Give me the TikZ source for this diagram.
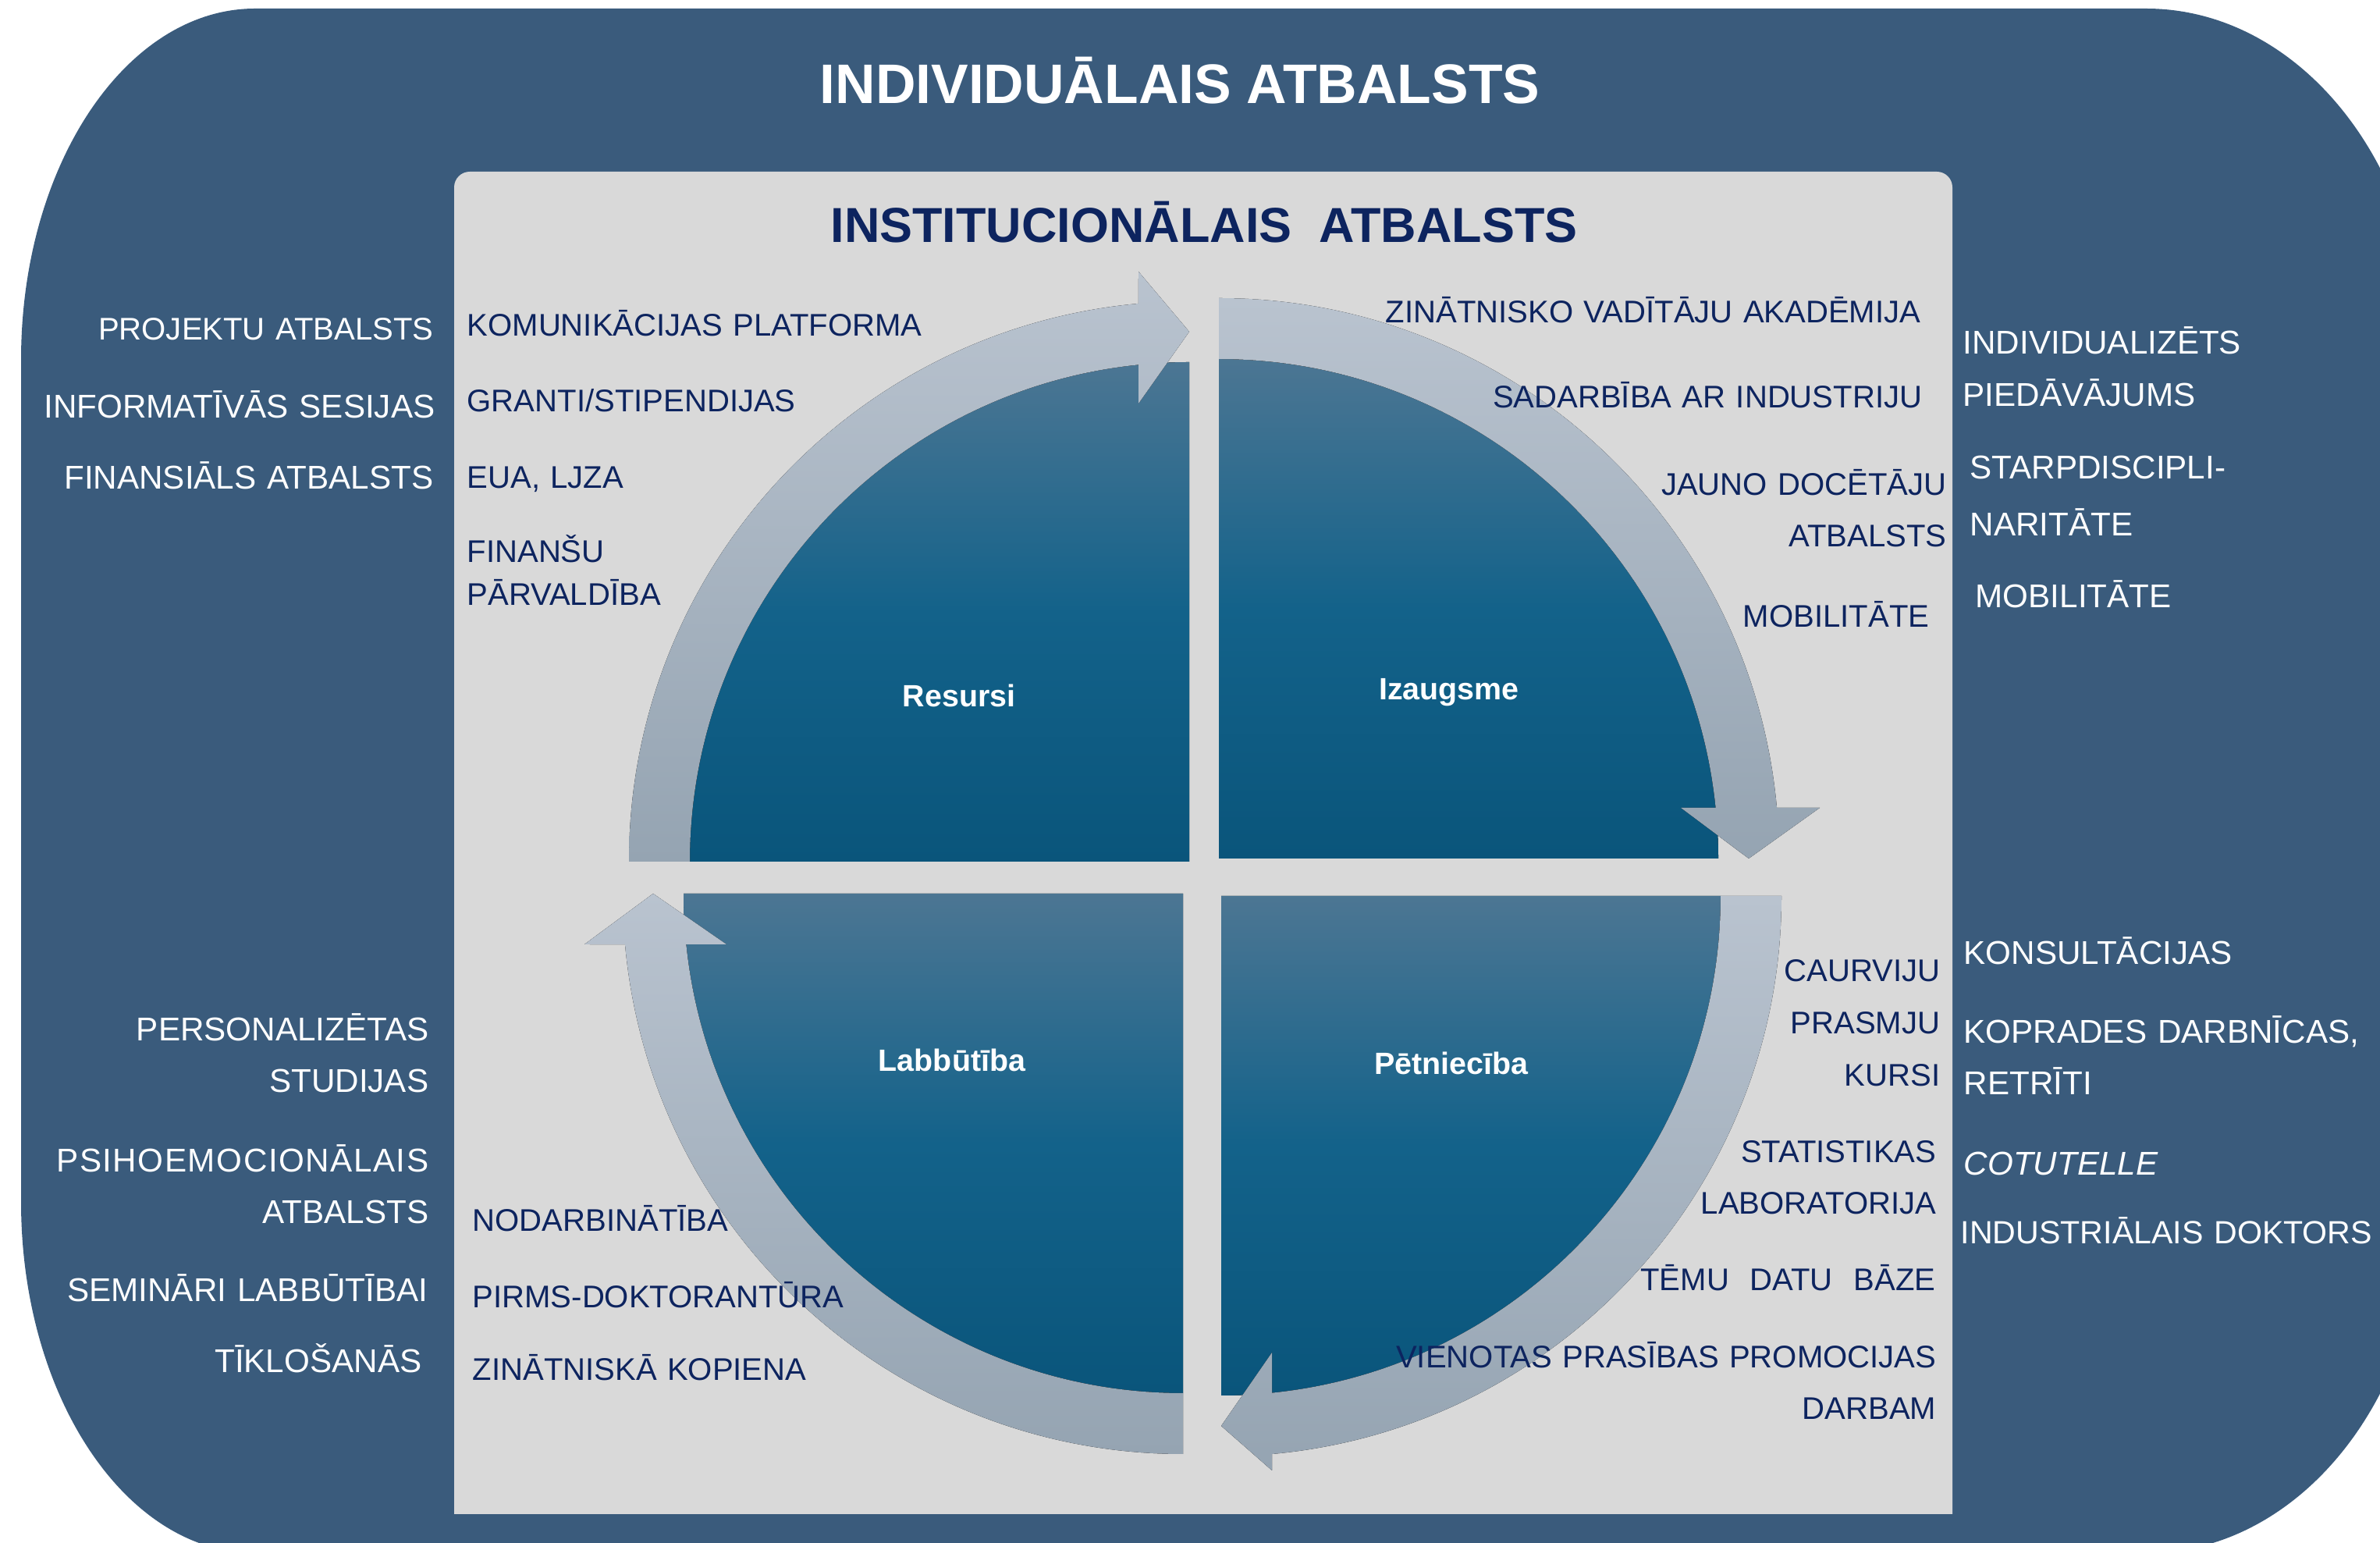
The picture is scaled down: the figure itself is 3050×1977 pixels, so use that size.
\documentclass[tikz,border=0pt]{standalone}
\usepackage{fontspec}
\setmainfont{Liberation Sans}
\usetikzlibrary{calc}

\newlength{\du}
\setlength{\du}{0.01cm}

\tikzset{
  itemfont/.style={font=\fontsize{11.4}{18.5}\selectfont},
  whiteitem/.style={font=\fontsize{12}{18.5}\selectfont, text=white, inner sep=0pt, text width=8cm},
  navyitem/.style={itemfont, text=navytext, inner sep=0pt, text width=8cm},
  rightcol/.style={anchor=base east, align=right},
  leftcol/.style={anchor=base west, align=left},
  pielabel/.style={font=\fontsize{11.2}{13}\selectfont\bfseries, text=white, inner sep=0pt},
  pieshape/.style={top color=pietop, bottom color=piebot, middle color=piemid},
  bandshape/.style={top color=bandtop, bottom color=bandbot},
}

\begin{document}
\begin{tikzpicture}[x=1\du, y=-1\du]
\definecolor{outerblue}{rgb}{0.227451, 0.356863, 0.486275}
\definecolor{panelgray}{rgb}{0.850980, 0.850980, 0.850980}
\definecolor{navytext}{rgb}{0.050980, 0.141176, 0.372549}
\definecolor{pietop}{rgb}{0.298039, 0.462745, 0.576471}
\definecolor{piemid}{rgb}{0.074510, 0.384314, 0.541176}
\definecolor{piebot}{rgb}{0.039216, 0.333333, 0.482353}
\definecolor{bandtop}{rgb}{0.725490, 0.764706, 0.811765}
\definecolor{bandbot}{rgb}{0.584314, 0.643137, 0.698039}
\useasboundingbox (0,0) rectangle (3050,1977);
\clip (0,0) rectangle (3050,1977);

% outer frame
\fill[outerblue] (327,11) -- (2750,11)
  arc[start angle=270, end angle=360, x radius=358, y radius=450]
  -- (3108,1540)
  arc[start angle=0, end angle=90, x radius=358, y radius=450]
  -- (327,1990)
  arc[start angle=90, end angle=180, x radius=300, y radius=450]
  -- (27,461)
  arc[start angle=180, end angle=270, x radius=300, y radius=450]
  -- cycle;

% inner panel
\fill[panelgray] (582,1940) [rounded corners=2mm] -- (582,220) -- (2502,220) [sharp corners] -- (2502,1940) -- cycle;

\coordinate (qtl) at (1524,1104);
\coordinate (qtr) at (1562,1100);
\coordinate (qbr) at (1565,1148);
\coordinate (qbl) at (1516,1145);

% quarters and arrows
\foreach \q/\a/\ob/\ib in {qtl/180/756/587, qtr/270/770/592, qbr/0/736/585, qbl/90/767/585} {
  \fill[pieshape] (\q) -- ($(\q)+(\a:640)$) arc[start angle=\a, delta angle=90, radius=640] -- cycle;
  \fill[bandshape] ($(\q)+(\a:718)$) arc[start angle=\a, end angle=\a+84.8, radius=718]
    -- ($(\q)+(\a:65)+({\a+90}:\ob)$)
    -- ($(\q)+({\a+90}:679)$)
    -- ($(\q)+(\a:65)+({\a+90}:\ib)$)
    -- ($(\q)+({\a+84.17}:640)$)
    arc[start angle=\a+84.17, end angle=\a, radius=640] -- cycle;
}

\node[pielabel] (resursi) at ($(qtl)+(-295,-213)$) {Resursi};
\node[pielabel] (izaugsme) at ($(qtr)+(295,-213)$) {Izaugsme};
\node[pielabel] (labbutiba) at ($(qbl)+(-296,213)$) {Labbūtība};
\node[pielabel] (petnieciba) at ($(qbr)+(295,214)$) {Pētniecība};

% titles
\node[font=\fontsize{20.3}{24}\selectfont\bfseries, text=white, anchor=base, inner sep=0pt] (indiv) at (1512,133) {INDIVIDUĀLAIS ATBALSTS};
\node[font=\fontsize{17.9}{22}\selectfont\bfseries, text=navytext, anchor=base, inner sep=0pt] (instit) at (1543,311) {INSTITUCIONĀLAIS\ \ ATBALSTS};

% individual support, left
\node[whiteitem, font=\fontsize{11.4}{18.5}\selectfont, rightcol] (projatb) at (556,436) {PROJEKTU ATBALSTS};
\node[whiteitem, rightcol] (infses) at (558,536) {INFORMATĪVĀS SESIJAS};
\node[whiteitem, rightcol] (finatb) at (556,627) {FINANSIĀLS ATBALSTS};
\node[whiteitem, rightcol] (persstud) at (550,1334) {PERSONALIZĒTAS\\STUDIJAS};
\node[whiteitem, rightcol] (psiho) at (550,1502) {{\addfontfeature{LetterSpace=3.6}PSIHOEMOCIONĀLAIS}\\ATBALSTS};
\node[whiteitem, rightcol] (seminari) at (549,1668) {SEMINĀRI LABBŪTĪBAI};
\node[whiteitem, rightcol] (tiklos) at (541,1759) {TĪKLOŠANĀS};

% institutional support, left
\node[navyitem, leftcol] (komplat) at (598,431) {KOMUNIKĀCIJAS PLATFORMA};
\node[navyitem, leftcol] (granti) at (598,528) {GRANTI/STIPENDIJAS};
\node[navyitem, leftcol] (eua) at (598,626) {EUA, LJZA};
\node[navyitem, leftcol] (finpar) at (598,721) {FINANŠU\\[-2.9pt]PĀRVALDĪBA};
\node[navyitem, leftcol] (nodarb) at (605,1578) {NODARBINĀTĪBA};
\node[navyitem, leftcol] (pirms) at (605,1676) {PIRMS-DOKTORANTŪRA};
\node[navyitem, leftcol] (zinkop) at (605,1769) {ZINĀTNISKĀ KOPIENA};

% institutional support, right
\node[navyitem, rightcol] (zinvad) at (2462,414) {ZINĀTNISKO VADĪTĀJU AKADĒMIJA};
\node[navyitem, rightcol] (sadarb) at (2464,523) {SADARBĪBA AR INDUSTRIJU};
\node[navyitem, rightcol] (jaundoc) at (2495,635) {JAUNO DOCĒTĀJU\\ATBALSTS};
\node[navyitem, rightcol] (mobinst) at (2473,804) {MOBILITĀTE};
\node[navyitem, rightcol] (caurviju) at (2487,1258) {CAURVIJU\\[0.5pt]PRASMJU\\[0.5pt]KURSI};
\node[navyitem, rightcol] (statlab) at (2482,1490) {STATISTIKAS\\LABORATORIJA};
\node[navyitem, rightcol] (temu) at (2481,1654) {TĒMU\ \ DATU\ \ BĀZE};
\node[navyitem, rightcol] (vienotas) at (2482,1753) {VIENOTAS PRASĪBAS PROMOCIJAS\\DARBAM};

% individual support, right
\node[whiteitem, leftcol] (indpied) at (2515,454) {INDIVIDUALIZĒTS\\[0.5pt]PIEDĀVĀJUMS};
\node[whiteitem, leftcol] (starpd) at (2524,614) {STARPDISCIPLI-\\[2pt]NARITĀTE};
\node[whiteitem, leftcol] (mobind) at (2531,779) {MOBILITĀTE};
\node[whiteitem, leftcol] (konsult) at (2516,1236) {KONSULTĀCIJAS};
\node[whiteitem, leftcol] (koprad) at (2516,1337) {KOPRADES DARBNĪCAS,\\RETRĪTI};
\node[whiteitem, leftcol] (cotut) at (2516,1506) {\textit{COTUTELLE}};
\node[whiteitem, font=\fontsize{11.7}{18.5}\selectfont, leftcol] (inddokt) at (2512,1594) {INDUSTRIĀLAIS DOKTORS};
\end{tikzpicture}
\end{document}
